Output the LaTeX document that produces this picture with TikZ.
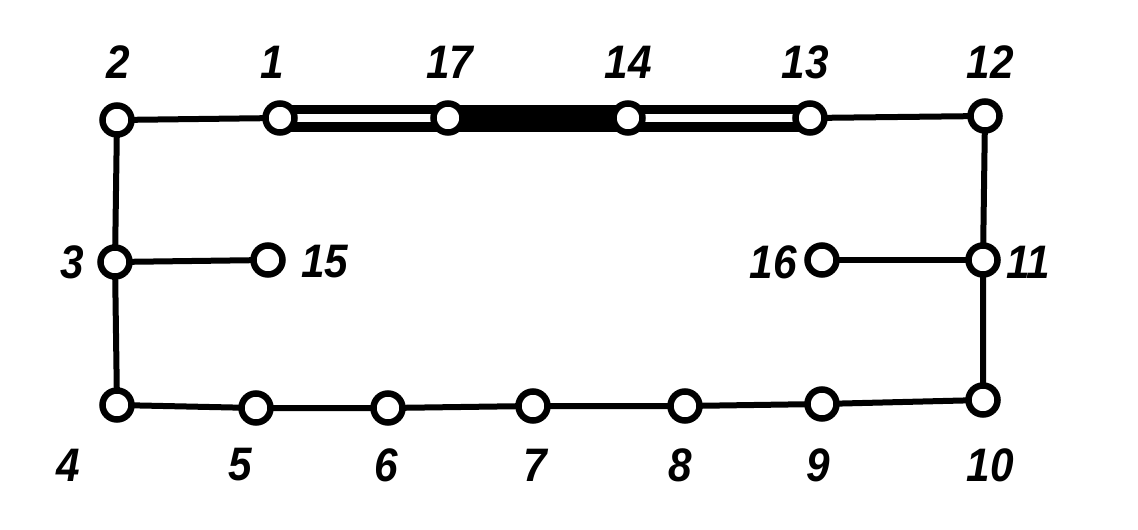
\documentclass[tikz,border=0pt]{standalone}
\usepackage{fontspec}
\setmainfont{Liberation Sans}
\begin{document}
\begin{tikzpicture}[x=1pt,y=-1pt,
  vtx/.style={circle,draw=black,fill=white,line width=6.5pt,minimum size=29pt,inner sep=0pt},
  lbl/.style={font=\fontsize{47}{47}\selectfont\bfseries\itshape,inner sep=0pt,xscale=0.9},
  edge/.style={line width=6pt},
  dbl/.style={line width=27pt},
  dblin/.style={white,line width=8pt},
  heavy/.style={line width=27pt}]
\useasboundingbox[fill=white] (0,0) rectangle (1138,530);
% vertices positions
\coordinate (p2) at (117,120);
\coordinate (p1) at (280,118);
\coordinate (p17) at (448,118);
\coordinate (p14) at (628,118);
\coordinate (p13) at (810,118);
\coordinate (p12) at (985,116);
\coordinate (p3) at (115,262);
\coordinate (p15) at (268,260);
\coordinate (p16) at (822,260);
\coordinate (p11) at (983,260);
\coordinate (p4) at (117,405);
\coordinate (p5) at (256,408);
\coordinate (p6) at (388,408);
\coordinate (p7) at (533,406);
\coordinate (p8) at (685,406);
\coordinate (p9) at (822,404);
\coordinate (p10) at (983,400);
% edges
\draw[edge] (p2) -- (p1);
\draw[edge] (p13) -- (p12) -- (p11) -- (p10) -- (p9) -- (p8) -- (p7) -- (p6) -- (p5) -- (p4) -- (p3) -- (p2);
\draw[edge] (p3) -- (p15);
\draw[edge] (p11) -- (p16);
\draw[dbl] (p1) -- (p17);
\draw[dblin] (p1) -- (p17);
\draw[heavy] (p17) -- (p14);
\draw[dbl] (p14) -- (p13);
\draw[dblin] (p14) -- (p13);
% nodes
\foreach \n in {1,...,17} \node[vtx] (v\n) at (p\n) {};
% labels
\node[lbl] (l2) at (118,62) {2};
\node[lbl] (l1) at (272,62) {1};
\node[lbl] (l17) at (450,62) {17};
\node[lbl] (l14) at (628,62) {14};
\node[lbl] (l13) at (805,62) {13};
\node[lbl] (l12) at (990,62) {12};
\node[lbl] (l3) at (72,262) {3};
\node[lbl] (l15) at (325,262) {15};
\node[lbl] (l16) at (773,262) {16};
\node[lbl] (l11) at (1028,262) {11};
\node[lbl] (l4) at (68,465) {4};
\node[lbl] (l5) at (240,465) {5};
\node[lbl] (l6) at (386,465) {6};
\node[lbl] (l7) at (535,465) {7};
\node[lbl] (l8) at (680,465) {8};
\node[lbl] (l9) at (818,465) {9};
\node[lbl] (l10) at (990,465) {10};
\end{tikzpicture}
\end{document}
